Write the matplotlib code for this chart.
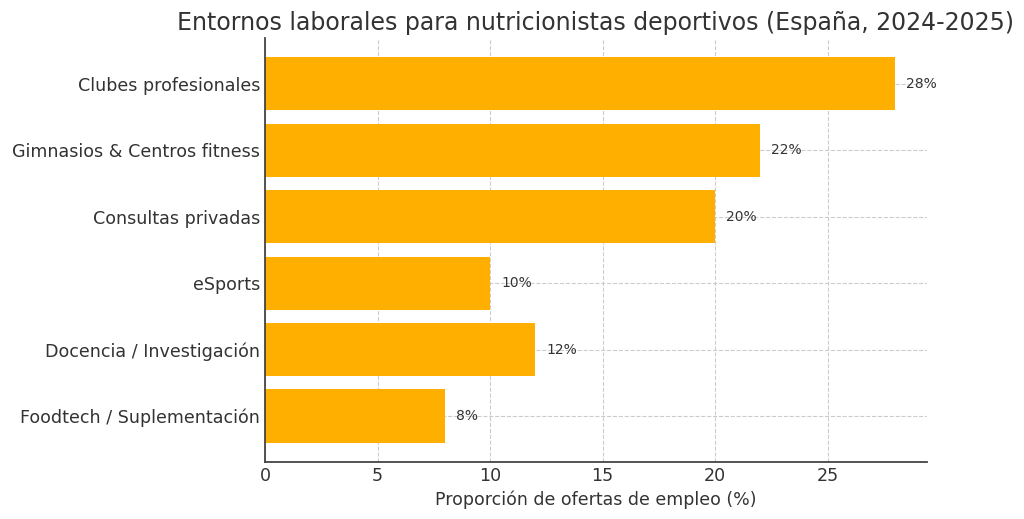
import matplotlib.pyplot as plt

categories = ["Clubes profesionales", "Gimnasios & Centros fitness", "Consultas privadas",
              "eSports", "Docencia / Investigación", "Foodtech / Suplementación"]
values = [28, 22, 20, 10, 12, 8]

fig, ax = plt.subplots(figsize=(10.24, 5.19), dpi=100)
fig.subplots_adjust(left=0.259, right=0.905, top=0.927, bottom=0.11)

bars = ax.barh(categories, values, color="#FFAF00", height=0.8, zorder=2)
ax.invert_yaxis()

for b, v in zip(bars, values):
    ax.text(v + 0.5, b.get_y() + b.get_height() / 2, f"{v}%", va="center", ha="left",
            fontsize=10, color="#333333")

ax.set_title("Entornos laborales para nutricionistas deportivos (España, 2024-2025)",
             fontsize=17, color="#333333")
ax.set_xlabel("Proporción de ofertas de empleo (%)", fontsize=12.5, color="#333333")
ax.tick_params(axis="both", labelsize=12.6, colors="#333333", direction="in")
ax.tick_params(axis="x", length=0)
ax.grid(True, linestyle="--", color="#cccccc", linewidth=0.8, zorder=0)
ax.set_axisbelow(True)
for s in ["top", "right"]:
    ax.spines[s].set_visible(False)
for s in ["left", "bottom"]:
    ax.spines[s].set_color("#444444")
    ax.spines[s].set_linewidth(1.3)

fig.savefig("out.png", dpi=100)
